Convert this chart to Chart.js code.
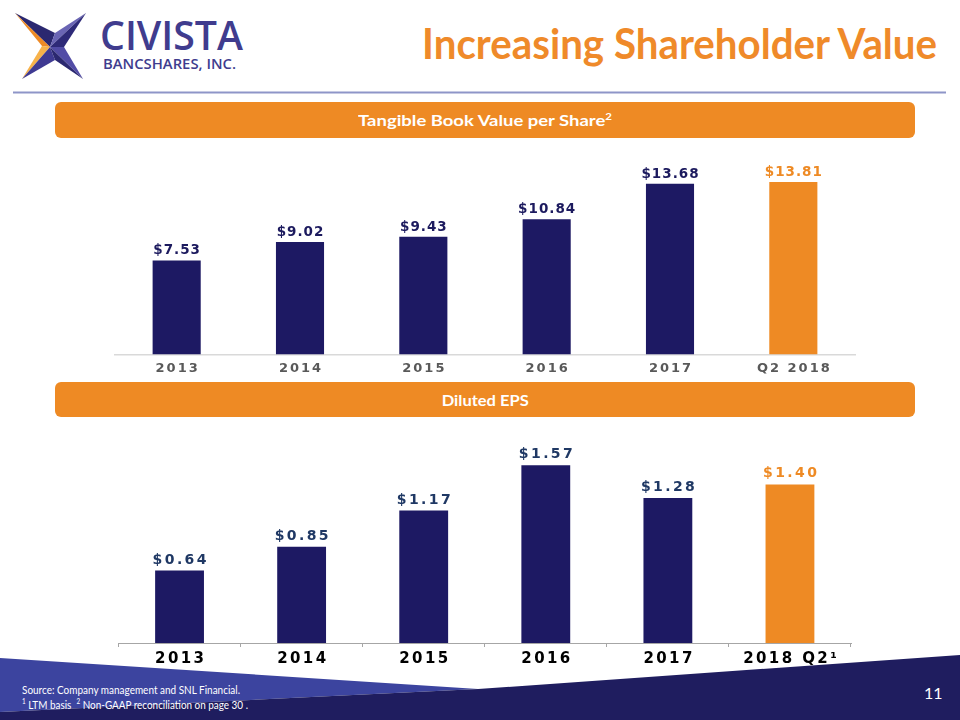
<!DOCTYPE html>
<html>
<head>
<meta charset="utf-8">
<script src="https://cdn.jsdelivr.net/npm/chart.js@4.4.0/dist/chart.umd.min.js"></script>
<style>
  html, body { margin: 0; padding: 0; background: #fff; }
  #page { position: relative; width: 960px; height: 720px; overflow: hidden; }
  .abs { position: absolute; }
  .fit { display: inline-block; white-space: nowrap; line-height: 1; }
  .banner { position: absolute; left: 55px; width: 860px; background: #ee8a24; border-radius: 6px;
            display: flex; align-items: center; justify-content: center; }
  .banner span { font-family: "Lato", sans-serif; font-weight: bold; color: #fff; font-size: 16px;
                 transform-origin: center; }
  .foot { position: absolute; left: 22px; color: #fff; font-family: "Lato", sans-serif; font-size: 11px; transform-origin: left top; }
</style>
</head>
<body>
<div id="page">
  <svg class="abs" style="left:0;top:0" width="960" height="720">
    <!-- footer wedges -->
    <polygon points="0,658 478,689 0,712" fill="#3c449f"/>
    <polygon points="0,712 478,689 960,655 960,720 0,720" fill="#1f1d5f"/>
    <!-- header rule -->
    <line x1="13" y1="92.5" x2="946" y2="92.5" stroke="#8e95c8" stroke-width="2"/>
    <!-- logo star -->
    <polygon points="15,13 55,33 50,47" fill="#2b2870"/>
    <polygon points="15,13 50,47 42,46" fill="#ee8a25"/>
    <polygon points="42,46 50,47 22,79" fill="#f7b24a"/>
    <polygon points="22,79 50,47 55,60" fill="#3f3a92"/>
    <polygon points="55,33 86,13 50,47" fill="#6a65b4"/>
    <polygon points="50,47 86,13 64,47" fill="#2e2a78"/>
    <polygon points="64,47 83,79 50,47" fill="#524ca6"/>
    <polygon points="50,47 83,79 55,60" fill="#2b2870"/>
  </svg>

  <div class="abs fit" data-w="143" style="left:100px;top:15px;font-family:'Open Sans',sans-serif;font-weight:600;font-size:40px;color:#403c8e;transform-origin:left top;">CIVISTA</div>
  <div class="abs fit" data-w="133" style="left:103px;top:56px;font-family:'Open Sans',sans-serif;font-weight:600;font-size:15px;color:#403c8e;transform-origin:left top;">BANCSHARES, INC.</div>

  <div class="abs" style="right:23px;top:22px;">
    <span class="fit" data-w="515" style="font-family:'Lato',sans-serif;font-weight:bold;font-size:42px;color:#ef8a2a;transform-origin:right top;">Increasing Shareholder Value</span>
  </div>

  <div class="banner" style="top:102px;height:36px;"><span class="fit" data-w="254">Tangible Book Value per Share<sup style="font-size:10px">2</sup></span></div>
  <div class="banner" style="top:382px;height:35px;"><span class="fit" data-w="87">Diluted EPS</span></div>

  <canvas id="c1" class="abs" style="left:100px;top:140px;" width="770" height="239"></canvas>
  <canvas id="c2" class="abs" style="left:100px;top:420px;" width="770" height="256"></canvas>

  <div class="foot fit" data-w="218" style="top:684px;">Source: Company management and SNL Financial.</div>
  <div class="foot fit" data-w="226" style="top:698px;"><sup style="font-size:7px">1</sup> LTM basis &nbsp;<sup style="font-size:7px">2</sup> Non-GAAP reconciliation on page 30 .</div>
  <div class="abs" style="left:924px;top:683px;color:#fff;font-family:'Lato',sans-serif;font-size:16px;">11</div>
</div>

<script>
// Tangible book value per share
const tbvYears = ["2013", "2014", "2015", "2016", "2017", "Q2 2018"];
const tbvValues = [7.53, 9.02, 9.43, 10.84, 13.68, 13.81];

// Diluted EPS
const epsYears = ["2013", "2014", "2015", "2016", "2017", "2018 Q2¹"];
const epsValues = [0.64, 0.85, 1.17, 1.57, 1.28, 1.40];

const NAVY = "#1d1963";
const ORANGE = "#ee8a24";

// stretch decorative text to the reference widths
document.querySelectorAll("[data-w]").forEach(el => {
  const w = el.getBoundingClientRect().width;
  el.style.transform = "scaleX(" + (el.dataset.w / w) + ")";
});

// last bar is highlighted orange
const barColors = (arr) => arr.map((v, i) => i === arr.length - 1 ? ORANGE : NAVY);

// "$x.xx" above each bar
const valueLabels = {
  id: "valueLabels",
  afterDatasetsDraw(chart, args, opts) {
    const ctx = chart.ctx;
    const meta = chart.getDatasetMeta(0);
    const data = chart.data.datasets[0].data;
    ctx.save();
    ctx.font = opts.font;
    ctx.letterSpacing = opts.spacing + "px";
    ctx.textAlign = "center";
    ctx.textBaseline = "alphabetic";
    meta.data.forEach((bar, i) => {
      ctx.fillStyle = i === data.length - 1 ? ORANGE : opts.color;
      ctx.fillText("$" + data[i].toFixed(2), bar.x + opts.spacing / 2, bar.y - opts.gap);
    });
    ctx.restore();
  }
};

// wider letter spacing for the axis labels
const tickSpacing = {
  id: "tickSpacing",
  beforeUpdate(chart, args, opts) { chart.ctx.letterSpacing = opts.px + "px"; },
  beforeDraw(chart, args, opts) { chart.ctx.letterSpacing = opts.px + "px"; }
};

new Chart(document.getElementById("c1"), {
  type: "bar",
  data: {
    labels: tbvYears,
    datasets: [{ data: tbvValues, backgroundColor: barColors(tbvValues), barPercentage: 0.39, categoryPercentage: 1 }]
  },
  options: {
    responsive: false,
    animation: false,
    layout: { padding: { top: 14.8, left: 15, right: 15, bottom: 5 } },
    plugins: {
      legend: { display: false },
      tooltip: { enabled: false },
      valueLabels: { font: "bold 13.5px 'DejaVu Sans'", spacing: 1, gap: 6, color: "#1c1a5e" },
      tickSpacing: { px: 2 }
    },
    scales: {
      x: {
        grid: { display: false },
        border: { display: true, color: "#d9d9d9", width: 1.5 },
        ticks: { color: "#595959", padding: -2, labelOffset: 1,
                 font: { family: "DejaVu Sans", weight: "bold", size: 13 } }
      },
      y: { display: false, min: 0, max: 16 }
    }
  },
  plugins: [valueLabels, tickSpacing]
});

new Chart(document.getElementById("c2"), {
  type: "bar",
  data: {
    labels: epsYears,
    datasets: [{ data: epsValues, backgroundColor: barColors(epsValues), barPercentage: 0.4, categoryPercentage: 1 }]
  },
  options: {
    responsive: false,
    animation: false,
    layout: { padding: { top: 19.2, left: 18.5, right: 19, bottom: 4 } },
    plugins: {
      legend: { display: false },
      tooltip: { enabled: false },
      valueLabels: { font: "bold 14px 'DejaVu Sans'", spacing: 2.4, gap: 7, color: "#1f3864" },
      tickSpacing: { px: 2.4 }
    },
    scales: {
      x: {
        grid: { display: true, drawOnChartArea: false, drawTicks: true, tickLength: 4, color: "#a6a6a6" },
        border: { display: true, color: "#a6a6a6", width: 1 },
        ticks: { color: "#000", padding: 3.5, labelOffset: 1.2,
                 font: { family: "DejaVu Sans", weight: "bold", size: 15 } }
      },
      y: { display: false, min: 0, max: 1.8 }
    }
  },
  plugins: [valueLabels, tickSpacing]
});
</script>
</body>
</html>
